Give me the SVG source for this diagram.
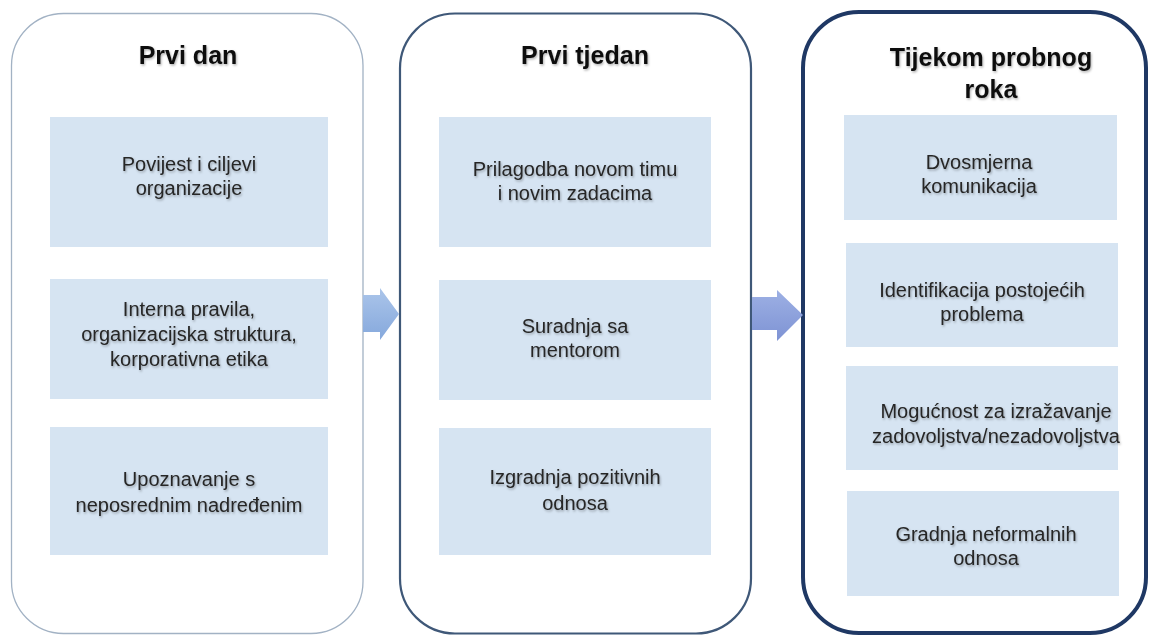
<svg xmlns="http://www.w3.org/2000/svg" width="1150" height="636" viewBox="0 0 1150 636">
<defs>
<style>
.title{font-family:"Liberation Sans",Arial,sans-serif;font-weight:bold;font-size:25px;fill:#111;text-anchor:middle;filter:url(#sh)}
.txt{font-family:"Liberation Sans",Arial,sans-serif;font-size:20px;fill:#262626;text-anchor:middle;filter:url(#sh)}
.box{fill:#d6e4f2}
.p1{fill:#fff;stroke:#a2b2c4;stroke-width:1.3}
.p2{fill:#fff;stroke:#3f5878;stroke-width:2.2}
.p3{fill:#fff;stroke:#1f3864;stroke-width:4}
</style>
<filter id="sh" x="-10%" y="-30%" width="120%" height="160%">
<feDropShadow dx="1" dy="1.5" stdDeviation="1" flood-color="#000" flood-opacity="0.3"/>
</filter>
<linearGradient id="g1" x1="0" y1="0" x2="0" y2="1">
<stop offset="0" stop-color="#abc5ea"/>
<stop offset="1" stop-color="#85a8dc"/>
</linearGradient>
<linearGradient id="g2" x1="0" y1="0" x2="0" y2="1">
<stop offset="0" stop-color="#9db0e4"/>
<stop offset="1" stop-color="#7e93d4"/>
</linearGradient>
</defs>
<rect width="1150" height="636" fill="#fff"/>

<g id="panel-prvi-dan">
<rect class="p1" x="11.5" y="13.5" width="351.5" height="620" rx="52" ry="52"/>
<text class="title" x="188" y="64">Prvi dan</text>
<g id="p1-box1"><rect class="box" x="50" y="117" width="278" height="130"/>
<text class="txt" x="189" y="171">Povijest i ciljevi</text><text class="txt" x="189" y="195">organizacije</text></g>
<g id="p1-box2"><rect class="box" x="50" y="279" width="278" height="120"/>
<text class="txt" x="189" y="316">Interna pravila,</text><text class="txt" x="189" y="341">organizacijska struktura,</text><text class="txt" x="189" y="366">korporativna etika</text></g>
<g id="p1-box3"><rect class="box" x="50" y="427" width="278" height="128"/>
<text class="txt" x="189" y="486">Upoznavanje s</text><text class="txt" x="189" y="512">neposrednim nadređenim</text></g>
</g>

<g id="panel-prvi-tjedan">
<rect class="p2" x="400" y="13.5" width="351" height="620" rx="55" ry="55"/>
<text class="title" x="585" y="64">Prvi tjedan</text>
<g id="p2-box1"><rect class="box" x="439" y="117" width="272" height="130"/>
<text class="txt" x="575" y="176">Prilagodba novom timu</text><text class="txt" x="575" y="200">i novim zadacima</text></g>
<g id="p2-box2"><rect class="box" x="439" y="280" width="272" height="120"/>
<text class="txt" x="575" y="333">Suradnja sa</text><text class="txt" x="575" y="357">mentorom</text></g>
<g id="p2-box3"><rect class="box" x="439" y="428" width="272" height="127"/>
<text class="txt" x="575" y="484">Izgradnja pozitivnih</text><text class="txt" x="575" y="510">odnosa</text></g>
</g>

<g id="panel-tijekom">
<rect class="p3" x="803" y="12" width="343" height="621" rx="56" ry="56"/>
<text class="title" x="991" y="66">Tijekom probnog</text>
<text class="title" x="991" y="98">roka</text>
<g id="p3-box1"><rect class="box" x="844" y="115" width="273" height="105"/>
<text class="txt" x="979" y="169">Dvosmjerna</text><text class="txt" x="979" y="193">komunikacija</text></g>
<g id="p3-box2"><rect class="box" x="846" y="243" width="272" height="104"/>
<text class="txt" x="982" y="297">Identifikacija postojećih</text><text class="txt" x="982" y="321">problema</text></g>
<g id="p3-box3"><rect class="box" x="846" y="366" width="272" height="104"/>
<text class="txt" x="996" y="418">Mogućnost za izražavanje</text><text class="txt" x="996" y="443">zadovoljstva/nezadovoljstva</text></g>
<g id="p3-box4"><rect class="box" x="847" y="491" width="272" height="105"/>
<text class="txt" x="986" y="541">Gradnja neformalnih</text><text class="txt" x="986" y="565">odnosa</text></g>
</g>

<g id="connectors">
<polygon points="363,295 380,295 380,288 399,314 380,340 380,332 363,332" fill="url(#g1)"/>
<polygon points="752,297 777,297 777,290 803,315 777,341 777,330 752,330" fill="url(#g2)"/>
</g>
</svg>
